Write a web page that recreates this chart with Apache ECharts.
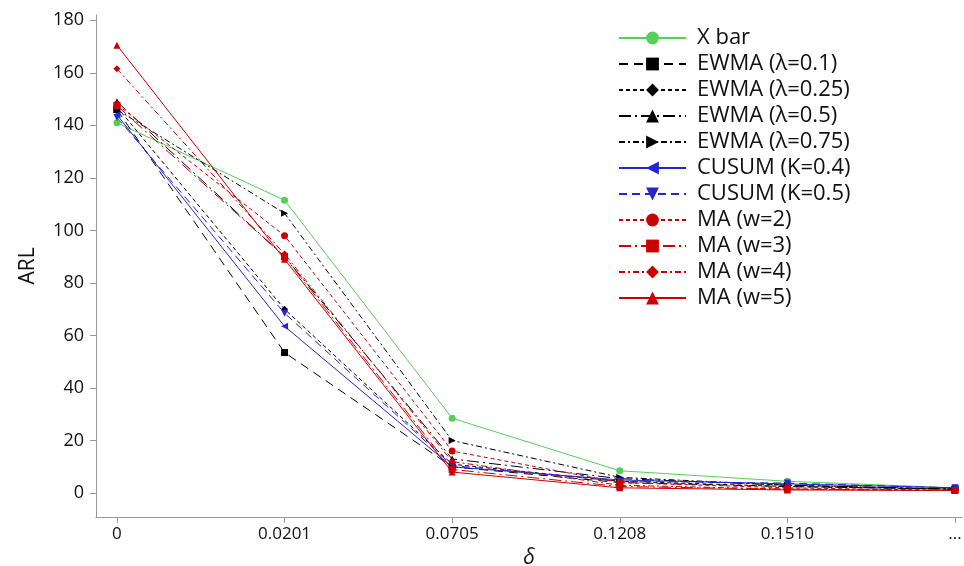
<!DOCTYPE html>
<html><head><meta charset="utf-8">
<script src="https://cdn.jsdelivr.net/npm/echarts@6/dist/echarts.min.js"></script>
<style>html,body{margin:0;padding:0;background:#fff}#c{width:964px;height:566px}</style>
</head><body><div id="c"></div>
<script>
const categories = ['0', '0.0201', '0.0705', '0.1208', '0.1510', '...'];
const yTicks = [0, 20, 40, 60, 80, 100, 120, 140, 160, 180];

const xbar    = [141, 111.5, 28.5, 8.5, 4.5, 2];
const ewma010 = [146, 53.5, 10, 4, 2.5, 1.5];
const ewma025 = [147, 70, 11, 4.5, 2.5, 1.5];
const ewma050 = [149, 90, 13, 5.5, 3, 1.5];
const ewma075 = [146, 106.5, 20, 6, 3, 1.5];
const cusum04 = [144, 63.5, 10, 5, 3.5, 2];
const cusum05 = [143, 68.5, 10.5, 4.5, 3.8, 2];
const ma2     = [148, 98, 16, 4, 2, 1];
const ma3     = [147.5, 90, 9, 2.5, 1.5, 1];
const ma4     = [161.5, 91, 12, 3, 1.5, 1];
const ma5     = [170.5, 89, 8, 2, 1.2, 1];

const GREEN = '#55cf55', BLACK = '#000000', BLUE = '#2626d0', RED = '#cc0000';
const LEFT = 'path://M10,0 L0,5 L10,10 Z';
const RIGHT = 'path://M0,0 L10,5 L0,10 Z';
const DOWN = 'path://M0,0 L10,0 L5,10 Z';

function mk(name, vals, color, symbol, dash) {
  return {
    name: name, type: 'line',
    data: vals.map((v, i) => [i, v]),
    symbol: symbol, symbolSize: 7,
    itemStyle: { color: color },
    lineStyle: { color: color, width: 1, type: dash },
    animation: false
  };
}

const series = [
  mk('X bar', xbar, GREEN, 'circle', 'solid'),
  mk('EWMA (λ=0.1)', ewma010, BLACK, 'rect', [9, 6]),
  mk('EWMA (λ=0.25)', ewma025, BLACK, 'diamond', [4, 3]),
  mk('EWMA (λ=0.5)', ewma050, BLACK, 'triangle', [12, 4, 2, 4]),
  mk('EWMA (λ=0.75)', ewma075, BLACK, RIGHT, [6, 3, 2, 3]),
  mk('CUSUM (K=0.4)', cusum04, BLUE, LEFT, 'solid'),
  mk('CUSUM (K=0.5)', cusum05, BLUE, DOWN, [8, 5]),
  mk('MA (w=2)', ma2, RED, 'circle', [4, 3]),
  mk('MA (w=3)', ma3, RED, 'rect', [12, 4, 2, 4]),
  mk('MA (w=4)', ma4, RED, 'diamond', [6, 3, 2, 3]),
  mk('MA (w=5)', ma5, RED, 'triangle', 'solid')
];

const chart = echarts.init(document.getElementById('c'), null, { renderer: 'canvas' });
chart.setOption({
  backgroundColor: '#fff',
  animation: false,
  grid: { left: 96, right: 2, top: 15, bottom: 49, containLabel: false, outerBoundsMode: 'none' },
  legend: {
    orient: 'vertical', left: 613, top: 22,
    itemWidth: 67, itemHeight: 16, itemGap: 4,
    textStyle: { fontFamily: 'Open Sans', fontSize: 22, color: '#111', padding: [0, 0, 0, 6] },
    data: series.map(s => s.name)
  },
  xAxis: {
    type: 'value', min: -0.125, max: 5.042,
    name: 'δ', nameLocation: 'middle', nameGap: 21,
    nameTextStyle: { fontFamily: 'Open Sans', fontSize: 21, fontStyle: 'italic', color: '#111' },
    axisLine: { show: true, onZero: false, lineStyle: { color: '#999', width: 1 } },
    axisTick: { show: true, length: 6, lineStyle: { color: '#999' }, customValues: [0, 1, 2, 3, 4, 5] },
    axisLabel: { customValues: [0, 1, 2, 3, 4, 5], formatter: v => categories[Math.round(v)], fontFamily: 'Open Sans', fontSize: 17, color: '#111', margin: 9 },
    splitLine: { show: false }
  },
  yAxis: {
    type: 'value', min: -9.1, max: 182,
    name: 'ARL', nameLocation: 'middle', nameGap: 57, nameRotate: 90,
    nameTextStyle: { fontFamily: 'Open Sans', fontSize: 21, fontWeight: 500, color: '#111' },
    axisLine: { show: true, onZero: false, lineStyle: { color: '#999', width: 1 } },
    axisTick: { show: true, length: 6, lineStyle: { color: '#999' }, customValues: yTicks },
    axisLabel: { customValues: yTicks, fontFamily: 'Open Sans', fontSize: 18, color: '#111', margin: 12 },
    splitLine: { show: false }
  },
  series: series
});
</script>
</body></html>
